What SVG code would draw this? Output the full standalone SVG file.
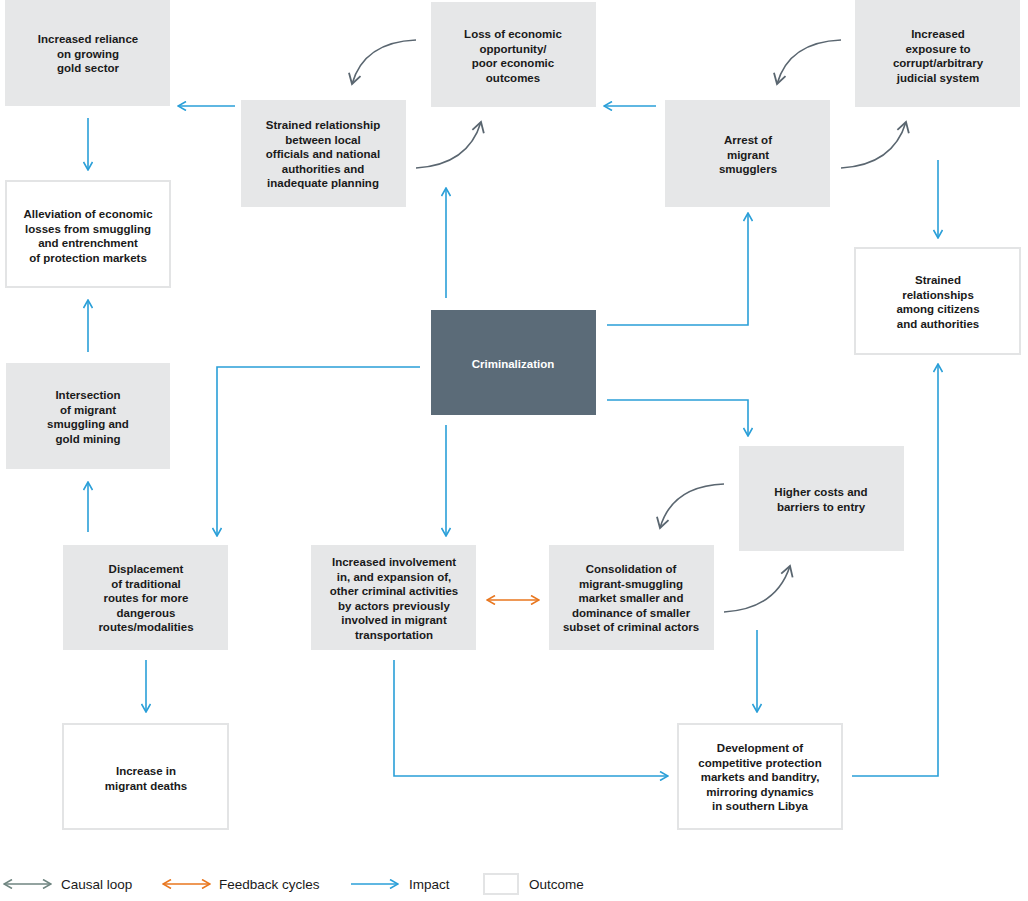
<svg xmlns="http://www.w3.org/2000/svg" width="1028" height="901" viewBox="0 0 1028 901">
<style>
.g{fill:#e6e7e8}
.o{fill:#fff;stroke:#e3e4e5;stroke-width:2}
.d{fill:#5b6b78}
text{font-family:"Liberation Sans",Arial,sans-serif;font-size:11.5px;font-weight:bold;fill:#1a1a1a;text-anchor:middle}
.w{fill:#fff}
.b{fill:none;stroke:#2a9fd8;stroke-width:1.6}
.c{fill:none;stroke:#5a6670;stroke-width:1.6}
.f{fill:none;stroke:#e8761e;stroke-width:1.6}
.l{font-weight:normal;font-size:13.5px;text-anchor:start}
</style>
<defs>
<marker id="ab" viewBox="0 0 10 10" refX="9" refY="5" markerWidth="10" markerHeight="10" markerUnits="userSpaceOnUse" orient="auto-start-reverse"><path d="M1,0.5L9,5L1,9.5" fill="none" stroke="#2a9fd8" stroke-width="1.6"/></marker>
<marker id="ac" viewBox="0 0 14 14" refX="12" refY="7" markerWidth="14" markerHeight="14" markerUnits="userSpaceOnUse" orient="auto-start-reverse"><path d="M2,1L12,7L2,13" fill="none" stroke="#5a6670" stroke-width="1.8"/></marker>
<marker id="af" viewBox="0 0 10 10" refX="9" refY="5" markerWidth="10" markerHeight="10" markerUnits="userSpaceOnUse" orient="auto-start-reverse"><path d="M1,0.5L9,5L1,9.5" fill="none" stroke="#e8761e" stroke-width="1.6"/></marker>
<marker id="ag" viewBox="0 0 10 10" refX="9" refY="5" markerWidth="10" markerHeight="10" markerUnits="userSpaceOnUse" orient="auto-start-reverse"><path d="M1,0.5L9,5L1,9.5" fill="none" stroke="#6f8580" stroke-width="1.6"/></marker>
</defs>
<rect width="1028" height="901" fill="#fff"/>
<g id="n1"><rect class="g" x="5" y="0" width="165" height="106"/><text x="88" y="43">Increased reliance<tspan x="88" dy="14.5">on growing</tspan><tspan x="88" dy="14.5">gold sector</tspan></text></g>
<g id="n2"><rect class="g" x="241" y="100" width="165" height="107"/><text x="323" y="129">Strained relationship<tspan x="323" dy="14.5">between local</tspan><tspan x="323" dy="14.5">officials and national</tspan><tspan x="323" dy="14.5">authorities and</tspan><tspan x="323" dy="14.5">inadequate planning</tspan></text></g>
<g id="n3"><rect class="g" x="431" y="2" width="165" height="105"/><text x="513" y="38">Loss of economic<tspan x="513" dy="14.5">opportunity/</tspan><tspan x="513" dy="14.5">poor economic</tspan><tspan x="513" dy="14.5">outcomes</tspan></text></g>
<g id="n4"><rect class="g" x="665" y="100" width="165" height="107"/><text x="748" y="144">Arrest of<tspan x="748" dy="14.5">migrant</tspan><tspan x="748" dy="14.5">smugglers</tspan></text></g>
<g id="n5"><rect class="g" x="855" y="0" width="165" height="107"/><text x="938" y="38">Increased<tspan x="938" dy="14.5">exposure to</tspan><tspan x="938" dy="14.5">corrupt/arbitrary</tspan><tspan x="938" dy="14.5">judicial system</tspan></text></g>
<g id="n6"><rect class="o" x="6" y="181" width="164" height="106"/><text x="88" y="218">Alleviation of economic<tspan x="88" dy="14.5">losses from smuggling</tspan><tspan x="88" dy="14.5">and entrenchment</tspan><tspan x="88" dy="14.5">of protection markets</tspan></text></g>
<g id="n7"><rect class="o" x="855" y="248" width="165" height="106"/><text x="938" y="284">Strained<tspan x="938" dy="14.5">relationships</tspan><tspan x="938" dy="14.5">among citizens</tspan><tspan x="938" dy="14.5">and authorities</tspan></text></g>
<g id="n8"><rect class="d" x="431" y="310" width="165" height="105"/><text class="w" x="513" y="368">Criminalization</text></g>
<g id="n9"><rect class="g" x="6" y="363" width="164" height="106"/><text x="88" y="399">Intersection<tspan x="88" dy="14.5">of migrant</tspan><tspan x="88" dy="14.5">smuggling and</tspan><tspan x="88" dy="14.5">gold mining</tspan></text></g>
<g id="n10"><rect class="g" x="739" y="446" width="165" height="105"/><text x="821" y="496">Higher costs and<tspan x="821" dy="14.5">barriers to entry</tspan></text></g>
<g id="n11"><rect class="g" x="63" y="545" width="165" height="105"/><text x="146" y="573">Displacement<tspan x="146" dy="14.5">of traditional</tspan><tspan x="146" dy="14.5">routes for more</tspan><tspan x="146" dy="14.5">dangerous</tspan><tspan x="146" dy="14.5">routes/modalities</tspan></text></g>
<g id="n12"><rect class="g" x="311" y="545" width="165" height="105"/><text x="394" y="566">Increased involvement<tspan x="394" dy="14.5">in, and expansion of,</tspan><tspan x="394" dy="14.5">other criminal activities</tspan><tspan x="394" dy="14.5">by actors previously</tspan><tspan x="394" dy="14.5">involved in migrant</tspan><tspan x="394" dy="14.5">transportation</tspan></text></g>
<g id="n13"><rect class="g" x="549" y="545" width="165" height="105"/><text x="631" y="573">Consolidation of<tspan x="631" dy="14.5">migrant-smuggling</tspan><tspan x="631" dy="14.5">market smaller and</tspan><tspan x="631" dy="14.5">dominance of smaller</tspan><tspan x="631" dy="14.5">subset of criminal actors</tspan></text></g>
<g id="n14"><rect class="o" x="63" y="724" width="165" height="105"/><text x="146" y="775">Increase in<tspan x="146" dy="14.5">migrant deaths</tspan></text></g>
<g id="n15"><rect class="o" x="678" y="724" width="164" height="105"/><text x="760" y="752">Development of<tspan x="760" dy="14.5">competitive protection</tspan><tspan x="760" dy="14.5">markets and banditry,</tspan><tspan x="760" dy="14.5">mirroring dynamics</tspan><tspan x="760" dy="14.5">in southern Libya</tspan></text></g>
<g id="connectors">
<path class="b" marker-end="url(#ab)" d="M235,106H178"/>
<path class="b" marker-end="url(#ab)" d="M88,118V170"/>
<path class="b" marker-end="url(#ab)" d="M88,352V300"/>
<path class="b" marker-end="url(#ab)" d="M88,532V482"/>
<path class="b" marker-end="url(#ab)" d="M146,660V712"/>
<path class="b" marker-end="url(#ab)" d="M446,298V188"/>
<path class="b" marker-end="url(#ab)" d="M656,106H604"/>
<path class="b" marker-end="url(#ab)" d="M607,325H748V213"/>
<path class="b" marker-end="url(#ab)" d="M607,400H748V436"/>
<path class="b" marker-end="url(#ab)" d="M420,367H217V536"/>
<path class="b" marker-end="url(#ab)" d="M446,425V536"/>
<path class="b" marker-end="url(#ab)" d="M938,160V238"/>
<path class="b" marker-end="url(#ab)" d="M852,776H938V364"/>
<path class="b" marker-end="url(#ab)" d="M394,660V776H668"/>
<path class="b" marker-end="url(#ab)" d="M757,630V712"/>
<path class="f" marker-start="url(#af)" marker-end="url(#af)" d="M487,600H539"/>
<path class="c" marker-end="url(#ac)" d="M416,40Q364,42 352,84"/>
<path class="c" marker-end="url(#ac)" d="M416,168Q468,165 481,122"/>
<path class="c" marker-end="url(#ac)" d="M841,40Q789,42 777,84"/>
<path class="c" marker-end="url(#ac)" d="M841,168Q893,165 906,122"/>
<path class="c" marker-end="url(#ac)" d="M724,484Q672,486 660,528"/>
<path class="c" marker-end="url(#ac)" d="M724,612Q776,609 790,566"/>
</g>
<g id="legend">
<path fill="none" stroke="#6f8580" stroke-width="1.6" marker-start="url(#ag)" marker-end="url(#ag)" d="M4,884H51"/>
<text class="l" x="61" y="889">Causal loop</text>
<path class="f" marker-start="url(#af)" marker-end="url(#af)" d="M163,884H210"/>
<text class="l" x="219" y="889">Feedback cycles</text>
<path class="b" marker-end="url(#ab)" d="M351,884H398"/>
<text class="l" x="409" y="889">Impact</text>
<rect class="o" x="484" y="874" width="34" height="20"/>
<text class="l" x="529" y="889">Outcome</text>
</g>
</svg>
